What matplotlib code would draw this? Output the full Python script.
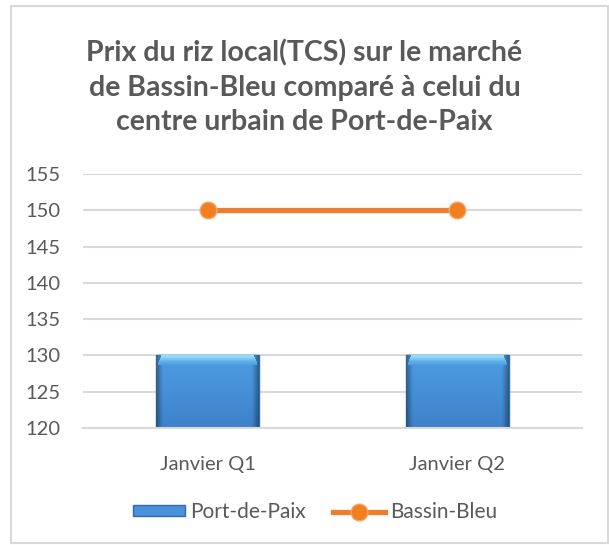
import matplotlib
matplotlib.use('Agg')
import matplotlib.pyplot as plt
import numpy as np
from matplotlib.patches import Rectangle
from matplotlib.colors import to_rgb

plt.rcParams['font.family'] = ['Lato', 'DejaVu Sans']

categories = ['Janvier Q1', 'Janvier Q2']
port_de_paix = [130, 130]
bassin_bleu = [150, 150]
yticks = [120, 125, 130, 135, 140, 145, 150, 155]

fig = plt.figure(figsize=(6.09, 5.45), dpi=100)
# cadre gris autour du graphique
fig.patches.append(Rectangle((11 / 609, 0.003), 597 / 609, 1 - 6 / 545 - 0.003,
                             transform=fig.transFigure, fill=False,
                             edgecolor='#d9d9d9', linewidth=1.5))

ax = fig.add_axes([0.136, 0.2147, 0.820, 0.466])
x = np.arange(len(categories))

bars = ax.bar(x, [v - 120 for v in port_de_paix], bottom=120, width=0.41,
              color='#4a90da', edgecolor='#2f6cae', linewidth=1.0,
              label='Port-de-Paix', zorder=2)

# degrade facon Excel dans chaque barre (ligne 0 = bas)
ny, nx = 80, 60
t = np.linspace(1, 0, ny)[:, None]          # 0 = haut, 1 = bas
s = np.linspace(0, 1, nx)[None, :]
mid = np.array(to_rgb('#4f9de2'))
bot = np.array(to_rgb('#3d82ca'))
base = mid * (1 - t[..., None]) + bot * t[..., None]
edge = np.clip(1 - np.minimum(s, 1 - s) / 0.06, 0, 1)[..., None]
img = base * (1 - 0.35 * edge)
top = np.array(to_rgb('#92dcfb'))
for b in bars:
    im = ax.imshow(img, extent=[b.get_x(), b.get_x() + b.get_width(),
                                b.get_y(), b.get_y() + b.get_height()],
                   origin='lower', aspect='auto', zorder=2.5,
                   interpolation='bilinear')
    im.set_clip_path(b)
    # reflet clair en haut de la barre
    n = 8
    y1 = b.get_y() + b.get_height()
    for k in range(n):
        f = k / (n - 1)
        c = top * (1 - f) + mid * f
        inset = 0.012 * (1 - f)
        ax.add_patch(Rectangle((b.get_x() + 0.006 + inset, y1 - 0.16 * (k + 1)),
                               b.get_width() - 0.012 - 2 * inset, 0.16,
                               color=c, linewidth=0, zorder=2.6))

ax.plot(x, bassin_bleu, color='#ed7d31', linewidth=3.8, marker='o',
        markersize=12, markerfacecolor='#f07f1f', markeredgecolor='#f5a56a',
        label='Bassin-Bleu', zorder=4)

ax.set_xlim(-0.5, 1.5)
ax.set_ylim(120, 155)
ax.set_yticks(yticks)
ax.set_xticks(x)
ax.set_xticklabels(categories)
ax.tick_params(axis='both', length=0, labelsize=14.5, labelcolor='#595959')
ax.tick_params(axis='y', pad=16)
ax.tick_params(axis='x', pad=20)
ax.grid(axis='y', color='#d9d9d9', linewidth=1.5, zorder=0)
ax.set_axisbelow(True)
for sp in ['top', 'right', 'left']:
    ax.spines[sp].set_visible(False)
ax.spines['bottom'].set_color('#d9d9d9')
ax.spines['bottom'].set_linewidth(1.5)

fig.text(0.5, 0.840, 'Prix du riz local(TCS) sur le marché\n'
         'de Bassin-Bleu comparé à celui du\n'
         'centre urbain de Port-de-Paix',
         ha='center', va='center', fontsize=20.5, fontweight='bold',
         color='#595959', linespacing=1.41)

handles, labels = ax.get_legend_handles_labels()
order = [labels.index('Port-de-Paix'), labels.index('Bassin-Bleu')]
fig.legend([handles[i] for i in order], [labels[i] for i in order],
           loc='center', bbox_to_anchor=(0.517, 0.06), ncol=2, frameon=False,
           fontsize=15, labelcolor='#595959', handlelength=2.5,
           handleheight=0.45, columnspacing=1.3, handletextpad=0.25)

fig.savefig('out.png', dpi=100)
